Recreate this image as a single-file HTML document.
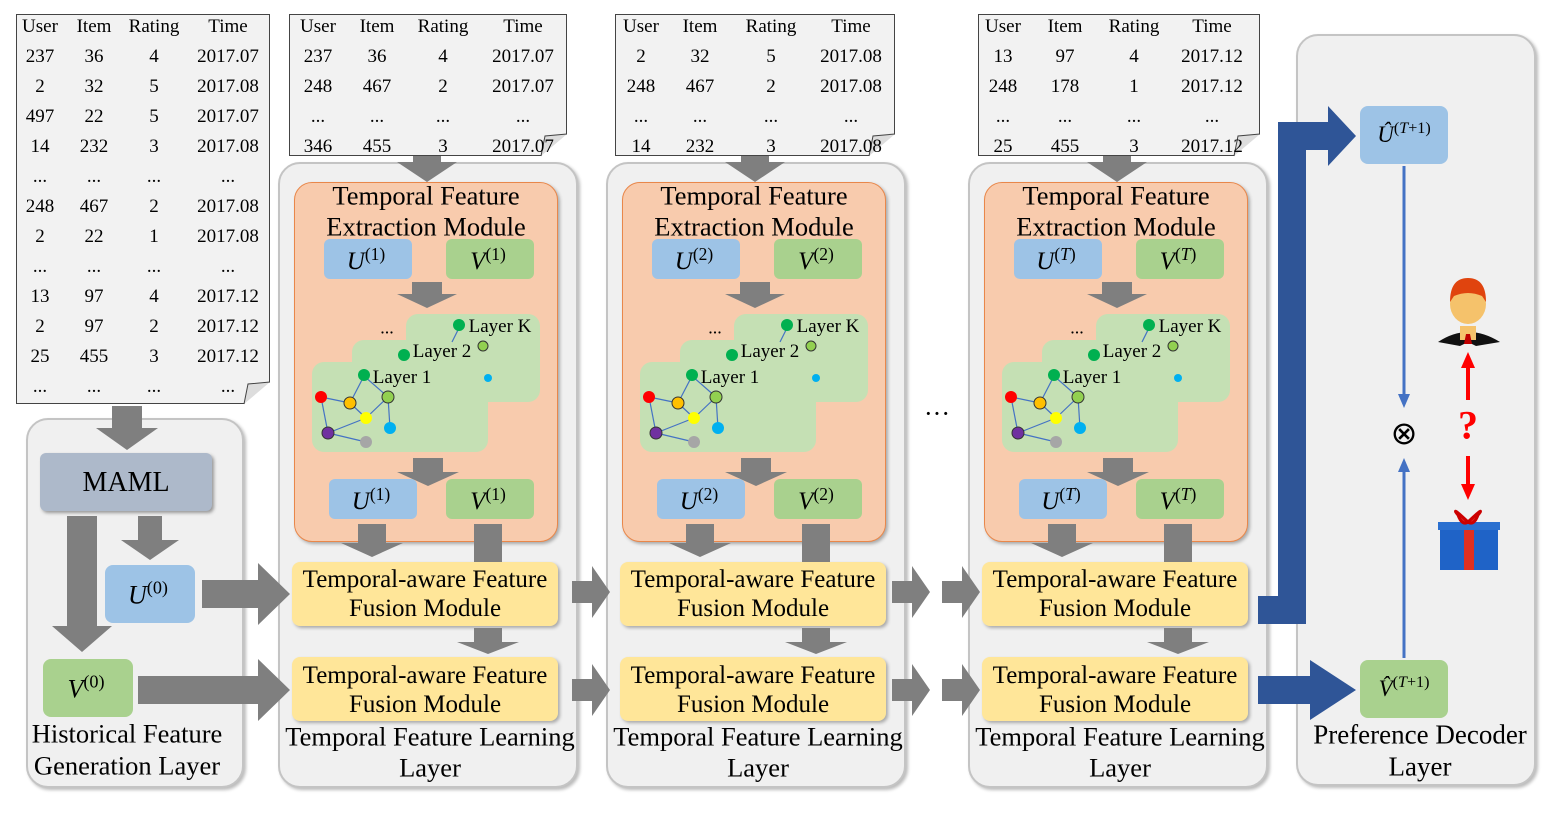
<!DOCTYPE html>
<html><head><meta charset="utf-8">
<style>
body{margin:0;width:1550px;height:821px;background:#fff;position:relative;overflow:hidden;font-family:"Liberation Serif",serif;}
.a{position:absolute;box-sizing:border-box;}
.t{position:absolute;transform:translate(-50%,-50%);white-space:nowrap;color:#000;}
.m{font-style:italic;}
sup{font-style:normal;font-size:0.7em;}
</style></head><body>
<div id="root"></div>
<svg id="sv" width="1550" height="821" style="position:absolute;left:0;top:0;z-index:5"></svg>
<script>
const R=document.body, S=document.getElementById('sv');
function box(x,y,w,h,st){const d=document.createElement('div');d.className='a';d.style.cssText=`left:${x}px;top:${y}px;width:${w}px;height:${h}px;`+st;R.appendChild(d);return d;}
function txt(x,y,s,fs,z){const d=document.createElement('div');d.className='t';d.style.cssText=`left:${x}px;top:${y}px;font-size:${fs}px;z-index:${z||6}`;d.innerHTML=s;R.appendChild(d);}
function poly(pts,fill){S.innerHTML+=`<polygon points="${pts}" fill="${fill}"/>`;}
function down(cx,y1,y2,sw,hw,hh,c){c=c||'#7f7f7f';poly(`${cx-sw/2},${y1} ${cx+sw/2},${y1} ${cx+sw/2},${y2-hh} ${cx+hw/2},${y2-hh} ${cx},${y2} ${cx-hw/2},${y2-hh} ${cx-sw/2},${y2-hh}`,c);}
function right(cy,x1,x2,sw,hw,hh,c){c=c||'#7f7f7f';poly(`${x1},${cy-sw/2} ${x1},${cy+sw/2} ${x2-hh},${cy+sw/2} ${x2-hh},${cy+hw/2} ${x2},${cy} ${x2-hh},${cy-hw/2} ${x2-hh},${cy-sw/2}`,c);}
function circ(x,y,r,f,st){S.innerHTML+=`<circle cx="${x}" cy="${y}" r="${r}" fill="${f}" ${st?'stroke="#333" stroke-width="1"':''}/>`;}
function line(a,b,c,d,col,w){S.innerHTML+=`<line x1="${a}" y1="${b}" x2="${c}" y2="${d}" stroke="${col}" stroke-width="${w||1.2}"/>`;}
const gray='background:#f0f0f0;border:2px solid #c4c4c4;border-radius:22px;box-shadow:2px 2px 3px #bbb;';
function table(x,y,w,h,cols,rows,dy){
 box(x,y,w,h,'background:#f2f2f2;border:1px solid #444;');
 poly(`${x+w-26},${y+h} ${x+w},${y+h-22} ${x+w},${y+h}`,'#fff');
 S.innerHTML+=`<polyline points="${x+w-26},${y+h} ${x+w-22},${y+h-20} ${x+w},${y+h-22}" fill="#ddd" stroke="#444"/>`;
 rows.forEach((r,i)=>r.forEach((c,j)=>txt(cols[j],y+13+i*dy,c,19)));
}
const hdr=['User','Item','Rating','Time'];
table(16,14,254,390,[40,94,154,228],[hdr,['237','36','4','2017.07'],['2','32','5','2017.08'],['497','22','5','2017.07'],['14','232','3','2017.08'],['...','...','...','...'],['248','467','2','2017.08'],['2','22','1','2017.08'],['...','...','...','...'],['13','97','4','2017.12'],['2','97','2','2017.12'],['25','455','3','2017.12'],['...','...','...','...']],30);
table(289,14,278,142,[318,377,443,523],[hdr,['237','36','4','2017.07'],['248','467','2','2017.07'],['...','...','...','...'],['346','455','3','2017.07']],30);
table(615,14,280,142,[641,700,771,851],[hdr,['2','32','5','2017.08'],['248','467','2','2017.08'],['...','...','...','...'],['14','232','3','2017.08']],30);
table(978,14,282,142,[1003,1065,1134,1212],[hdr,['13','97','4','2017.12'],['248','178','1','2017.12'],['...','...','...','...'],['25','455','3','2017.12']],30);

// left column
box(26,418,218,370,gray);
down(127,406,450,30,62,22);
box(40,453,172,58,'background:#adb9ca;border-radius:6px;box-shadow:2px 2px 3px #999;');
txt(126,483,'MAML',28);
down(150,516,560,24,58,20);
down(82,516,652,30,60,26);
box(105,565,90,58,'background:#9dc3e6;border-radius:8px;');
txt(148,594,'<span class="m">U</span><sup>(0)</sup>',26);
box(43,659,90,58,'background:#a9d18e;border-radius:8px;');
txt(86,688,'<span class="m">V</span><sup>(0)</sup>',26);
txt(127,734,'Historical Feature',26.5);txt(127,766,'Generation Layer',26.5);
right(594,202,290,28,62,32);
right(690,138,290,28,62,32);

const ys=['1','2','<i>T</i>'];
[0,328,690].forEach((o,k)=>{
 const s=ys[k];
 box(278+o,162,300,626,gray);
 down(427+o,156,182,28,60,20);
 box(294+o,182,264,360,'background:#f8cbad;border:1px solid #e9874a;border-radius:18px;box-shadow:2px 2px 3px #aaa;');
 txt(426+o,196,'Temporal Feature',26.5);txt(426+o,227,'Extraction Module',26.5);
 box(324+o,239,88,40,'background:#9dc3e6;border-radius:6px;');
 box(446+o,239,88,40,'background:#a9d18e;border-radius:6px;');
 txt(366+o,260,`<span class="m">U</span><sup>(${s})</sup>`,25);
 txt(488+o,260,`<span class="m">V</span><sup>(${s})</sup>`,25);
 down(427+o,282,308,30,60,14);
 box(406+o,314,134,88,'background:#c5e0b4;border-radius:12px;');
 box(352+o,340,136,92,'background:#c5e0b4;border-radius:12px;');
 box(312+o,362,176,90,'background:#c5e0b4;border-radius:12px;');
 txt(500+o,327,'Layer K',19);txt(442+o,352,'Layer 2',19);txt(402+o,378,'Layer 1',19);
 txt(387+o,328,'...',18);
 line(460+o,326,452+o,342,'#4472c4');
 line(364+o,376,350+o,403,'#4472c4');line(364+o,376,388+o,397,'#4472c4');
 line(321+o,397,328+o,433,'#4472c4');line(321+o,397,350+o,403,'#4472c4');
 line(350+o,403,366+o,418,'#4472c4');line(366+o,418,388+o,397,'#4472c4');
 line(328+o,433,366+o,418,'#4472c4');line(328+o,433,366+o,442,'#4472c4');line(388+o,397,390+o,428,'#4472c4');
 circ(459+o,325,6,'#00b050');circ(404+o,355,6,'#00b050');circ(364+o,375,6,'#00b050');
 circ(483+o,346,5,'#92d050',1);circ(488+o,378,4,'#00b0f0');
 circ(321+o,397,6,'#ff0000');circ(350+o,403,6,'#ffc000',1);circ(388+o,397,6,'#92d050',1);
 circ(366+o,418,6,'#ffff00');circ(390+o,428,6,'#00b0f0');circ(328+o,433,6,'#7030a0',1);circ(366+o,442,6,'#a6a6a6');
 down(428+o,458,486,30,62,14);
 box(329+o,479,88,40,'background:#9dc3e6;border-radius:6px;');
 box(446+o,479,88,40,'background:#a9d18e;border-radius:6px;');
 txt(371+o,500,`<span class="m">U</span><sup>(${s})</sup>`,25);
 txt(488+o,500,`<span class="m">V</span><sup>(${s})</sup>`,25);
 down(372+o,524,557,28,62,14);
 poly(`${474+o},524 ${502+o},524 ${502+o},562 ${474+o},562`,'#7f7f7f');
 box(292+o,562,266,64,'background:#ffe699;border-radius:8px;box-shadow:2px 2px 3px #aaa;');
 txt(425+o,580,'Temporal-aware Feature',25);txt(425+o,609,'Fusion Module',25);
 down(488+o,628,654,28,62,12);
 box(292+o,657,266,64,'background:#ffe699;border-radius:8px;box-shadow:2px 2px 3px #aaa;');
 txt(425+o,676,'Temporal-aware Feature',25);txt(425+o,705,'Fusion Module',25);
 txt(430+o,737,'Temporal Feature Learning',26.5);txt(430+o,768,'Layer',26.5);
});
right(592,572,610,22,52,18);right(690,572,610,22,52,18);
right(592,892,930,22,52,18);right(690,892,930,22,52,18);
right(592,942,980,22,52,18);right(690,942,980,22,52,18);
txt(937,414,'&middot;&middot;&middot;',26);

// decoder
box(1296,34,240,752,gray);
const bl='#2f5597';
poly('1278,624 1306,624 1306,122 1278,122',bl);
poly('1258,596 1306,596 1306,624 1258,624',bl);
right(136,1290,1356,28,60,28,bl);
right(690,1258,1356,28,60,46,bl);
box(1360,106,88,58,'background:#9dc3e6;border-radius:8px;');
txt(1404,134,'<span class="m">Û</span><sup>(<i>T</i>+1)</sup>',23);
box(1360,660,88,58,'background:#a9d18e;border-radius:8px;');
txt(1404,688,'<span class="m">V̂</span><sup>(<i>T</i>+1)</sup>',23);
line(1404,166,1404,396,'#4472c4',3);poly('1398,394 1410,394 1404,408','#4472c4');
line(1404,470,1404,658,'#4472c4',3);poly('1398,472 1410,472 1404,458','#4472c4');
txt(1404,433,'&otimes;',32);
txt(1420,735,'Preference Decoder',27);txt(1420,767,'Layer',27);
// person
S.innerHTML+=`<path d="M1438,342 Q1468,322 1500,342 L1476,346 L1468,342 L1460,346 Z" fill="#111"/>
<rect x="1460" y="326" width="16" height="14" fill="#f5c26b"/>
<polygon points="1466,334 1470,334 1472,344 1464,344" fill="#c00000"/>
<ellipse cx="1468" cy="304" rx="18" ry="20" fill="#f5c26b"/>
<path d="M1450,302 Q1450,278 1468,278 Q1486,278 1486,302 L1482,296 Q1468,290 1454,296 Z" fill="#e0440e"/>
<line x1="1468" y1="400" x2="1468" y2="366" stroke="#f00" stroke-width="4"/><polygon points="1461,368 1475,368 1468,352" fill="#f00"/>
<line x1="1468" y1="456" x2="1468" y2="486" stroke="#f00" stroke-width="4"/><polygon points="1461,484 1475,484 1468,500" fill="#f00"/>
<rect x="1440" y="528" width="58" height="42" fill="#1f63c7"/><rect x="1464" y="528" width="10" height="42" fill="#e03020"/>
<rect x="1438" y="522" width="62" height="8" fill="#2a70d0"/>
<path d="M1468,522 Q1450,505 1458,515 Q1462,526 1468,522 Q1486,505 1478,515 Q1474,526 1468,522" fill="#e02020" stroke="#c00" stroke-width="3"/>`;
txt(1468,425,'<span style="color:#f00;font-weight:bold">?</span>',40);
</script>
</body></html>
